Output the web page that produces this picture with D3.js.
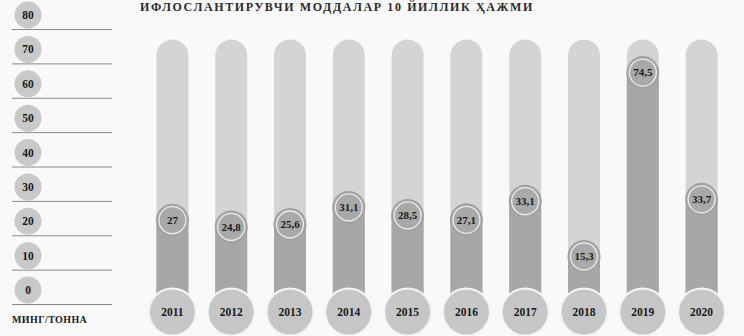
<!DOCTYPE html>
<html>
<head>
<meta charset="utf-8">
<script src="https://cdn.jsdelivr.net/npm/d3@7"></script>
<style>
  html, body { margin: 0; padding: 0; background: #f9f9f9; }
  svg { display: block; }
  text { font-family: "Liberation Serif", "Times New Roman", serif; font-weight: bold; fill: #1a1a1a; }
</style>
</head>
<body>
<svg id="chart" width="744" height="336"></svg>
<script>
// Annual volume of pollutants, thousand tonnes
const years = ["2011", "2012", "2013", "2014", "2015", "2016", "2017", "2018", "2019", "2020"];
const values = [27, 24.8, 25.6, 31.1, 28.5, 27.1, 33.1, 15.3, 74.5, 33.7];
const axisTicks = [80, 70, 60, 50, 40, 30, 20, 10, 0];
const titleText = "ИФЛОСЛАНТИРУВЧИ МОДДАЛАР 10 ЙИЛЛИК ҲАЖМИ";
const unitText = "МИНГ/ТОННА";

const svg = d3.select("#chart");
const fmt = v => String(v).replace(".", ",");

// Title along the top edge
svg.append("text")
  .attr("x", 140).attr("y", 11)
  .attr("font-size", 12)
  .attr("letter-spacing", 1.6)
  .style("fill", "#2a2a2a")
  .text(titleText);

// Left scale: round badges with rule lines
const yAxis = d3.scaleLinear().domain([0, 80]).range([290, 15]);
const axisG = svg.append("g");
const tickG = axisG.selectAll("g").data(axisTicks).join("g")
  .attr("transform", d => `translate(0,${yAxis(d)})`);
tickG.append("line")
  .attr("x1", 12).attr("x2", 112).attr("y1", 14.5).attr("y2", 14.5)
  .attr("stroke", "#8a8a8a").attr("stroke-width", 1);
tickG.append("circle")
  .attr("cx", 28).attr("cy", 0).attr("r", 13.5)
  .attr("fill", "#c9c9c9");
tickG.append("text")
  .attr("x", 28).attr("y", 0)
  .attr("text-anchor", "middle").attr("dy", "0.35em")
  .attr("font-size", 11.5)
  .text(d => d);
axisG.append("text")
  .attr("x", 12).attr("y", 323)
  .attr("font-size", 10)
  .attr("letter-spacing", 0.4)
  .text(unitText);

// Column layout
const x = d3.scaleBand().domain(years).range([143, 731]);
const y = d3.scaleLinear().domain([0, 80]).range([304, 55.5]);
const barW = 32;
const cx = d => x(d) + x.bandwidth() / 2;

const cols = svg.append("g").selectAll("g")
  .data(years.map((yr, i) => ({ year: yr, value: values[i] })))
  .join("g")
  .attr("transform", d => `translate(${cx(d.year)},0)`);

// Track: full-height rounded column
cols.append("path")
  .attr("fill", "#d4d4d4")
  .attr("d", () => {
    const top = y(80), bottom = y(0), r = barW / 2;
    return `M${-r},${bottom} L${-r},${top} A${r},${r} 0 0 1 ${r},${top} L${r},${bottom} Z`;
  });

// Value fill
cols.append("rect")
  .attr("x", -barW / 2).attr("width", barW)
  .attr("y", d => y(d.value))
  .attr("height", d => y(0) - y(d.value))
  .attr("fill", "#a7a7a7");

// Value badge
cols.append("circle")
  .attr("cy", d => y(d.value)).attr("r", 16.5)
  .attr("fill", "#a3a3a3");
cols.append("circle")
  .attr("cy", d => y(d.value)).attr("r", 13.5)
  .attr("fill", "#a9a9a9")
  .attr("stroke", "#ececec").attr("stroke-width", 1.3);
cols.append("text")
  .attr("y", d => y(d.value))
  .attr("text-anchor", "middle").attr("dy", "0.35em")
  .attr("font-size", 11)
  .text(d => fmt(d.value));

// Year badge
cols.append("circle")
  .attr("cy", 312).attr("r", 23.5)
  .attr("fill", "#c6c6c6")
  .attr("stroke", "#f4f4f4").attr("stroke-width", 2);
cols.append("text")
  .attr("y", 312)
  .attr("text-anchor", "middle").attr("dy", "0.35em")
  .attr("font-size", 11.5)
  .text(d => d.year);
</script>
</body>
</html>
